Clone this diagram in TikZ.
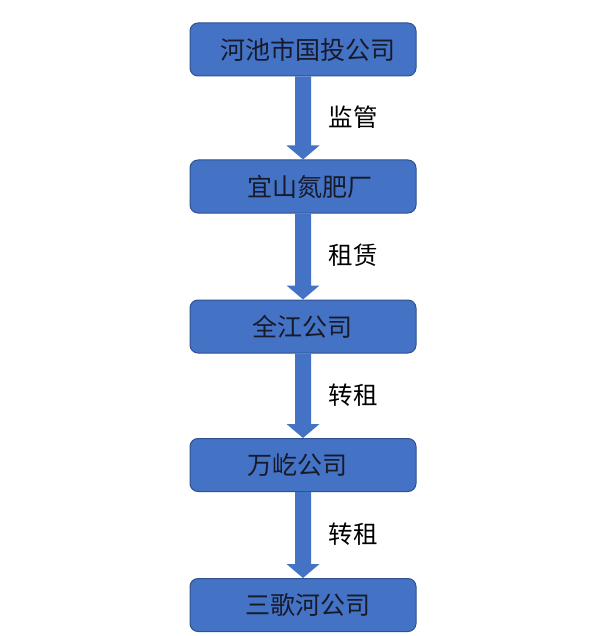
\documentclass[tikz,border=0pt]{standalone}
\usepackage{fontspec}
\setmainfont{Noto Sans CJK SC}
\usetikzlibrary{calc}
\definecolor{boxfill}{HTML}{4472C4}
\definecolor{boxline}{HTML}{2F528F}
\definecolor{txt}{HTML}{161A2A}
\begin{document}
\begin{tikzpicture}[x=1pt,y=-1pt,
  orgbox/.style={draw=boxline,line width=1pt,fill=boxfill,rounded corners=8pt,minimum width=226pt,minimum height=53pt,inner sep=0pt,text=txt},
  btext/.style={font=\fontsize{25}{27}\selectfont,text=txt},
  flowarrow/.style={fill=boxfill,draw=none},
  lbl/.style={font=\fontsize{24.5}{27}\selectfont,text=black,anchor=west}]
\useasboundingbox (0,0) rectangle (589,636);
\node[orgbox] (b1) at (303,49.5) {};
\node[orgbox] (b2) at (303,186.5) {};
\node[orgbox] (b3) at (303,326.5) {};
\node[orgbox] (b4) at (303,465) {};
\node[orgbox] (b5) at (303,605) {};
\node[btext] (t1) at ($(b1.center)+(5,0)$) {河池市国投公司};
\node[btext] (t2) at ($(b2.center)+(7,0)$) {宜山氮肥厂};
\node[btext] (t3) at ($(b3.center)+(-1,0)$) {全江公司};
\node[btext] (t4) at ($(b4.center)+(-6,0)$) {万屹公司};
\node[btext] (t5) at ($(b5.center)+(5,0)$) {三歌河公司};
\foreach \a/\b/\t in {b1/b2/监管,b2/b3/租赁,b3/b4/转租,b4/b5/转租}{
  \path (\a.south) coordinate (s) (\b.north) coordinate (e);
  \fill[flowarrow] ([xshift=-8pt]s) -- ([xshift=8pt]s) -- ([xshift=8pt,yshift=14pt]e) -- ([xshift=16.5pt,yshift=14pt]e) -- (e) -- ([xshift=-16.5pt,yshift=14pt]e) -- ([xshift=-8pt,yshift=14pt]e) -- cycle;
  \node[lbl] at ($(s)!0.5!(e)+(22,-1)$) {\t};
}
\end{tikzpicture}
\end{document}
